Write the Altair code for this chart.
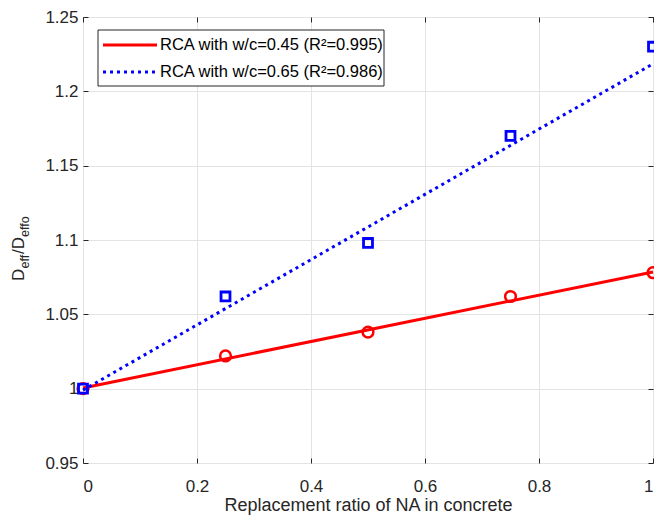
import altair as alt
import pandas as pd

# ---- data ----
ratio = [0.0, 0.25, 0.5, 0.75, 1.0]
d_045 = [1.000, 1.022, 1.038, 1.062, 1.078]
d_065 = [1.000, 1.062, 1.098, 1.170, 1.230]

fit_x = [0.0, 1.0]
fit_045 = [1.0005, 1.0785]
fit_065 = [0.999, 1.2185]

labels = ["RCA with w/c=0.45 (R²=0.995)", "RCA with w/c=0.65 (R²=0.986)"]
x_ticks = [0, 0.2, 0.4, 0.6, 0.8, 1]
y_ticks = [0.95, 1.0, 1.05, 1.1, 1.15, 1.2, 1.25]

RED = "#ff0000"
BLUE = "#0000ff"
AX = "#262626"
FONT = "Liberation Sans"
W, H = 570, 446

pts = pd.DataFrame({"x": ratio, "a": d_045, "b": d_065})
fit = pd.DataFrame({"x": fit_x, "a": fit_045, "b": fit_065})
leg = pd.DataFrame({"label": labels})

xs = alt.Scale(domain=[0, 1], nice=False, zero=False)
ys = alt.Scale(domain=[0.95, 1.25], nice=False, zero=False)

def x_axis_main():
    return alt.Axis(values=x_ticks, grid=True, gridColor="#e3e3e3", gridWidth=1,
                    domain=False, ticks=True, tickSize={"expr": "-5"}, tickColor=AX,
                    labelPadding=20, labelFontSize=17, labelColor=AX, labelFont=FONT,
                    title="Replacement ratio of NA in concrete", titleFont=FONT,
                    titleFontSize=18, titleFontWeight="normal", titleColor=AX,
                    titlePadding=2,
                    labelExpr="datum.value == 0 ? '0' : datum.value == 1 ? '1' : format(datum.value, '.1f')")

def y_axis_main():
    return alt.Axis(values=y_ticks, grid=True, gridColor="#e3e3e3", gridWidth=1,
                    domain=False, ticks=True, tickSize={"expr": "-5"}, tickColor=AX,
                    labelPadding=10, labelFontSize=17, labelColor=AX, labelFont=FONT,
                    title=None,
                    labelExpr="datum.value == 1 ? '1' : format(datum.value, '.3~f')")

red_line = alt.Chart(fit).mark_line(color=RED, strokeWidth=3).encode(
    x=alt.X("x:Q", scale=xs, axis=x_axis_main()),
    y=alt.Y("a:Q", scale=ys, axis=y_axis_main()),
)
red_pts = alt.Chart(pts).mark_point(shape="circle", color=RED, filled=False,
                                    size=115, strokeWidth=2.5, opacity=1).encode(
    x=alt.X("x:Q", scale=xs, axis=alt.Axis(orient="top", values=x_ticks, labels=False,
                                             grid=False, domain=False, tickSize={"expr": "-5"},
                                             tickColor=AX, title=None)),
    y=alt.Y("a:Q", scale=ys, axis=alt.Axis(orient="right", values=y_ticks, labels=False,
                                             grid=False, domain=False, tickSize={"expr": "-5"},
                                             tickColor=AX, title=None)),
)
blue_line = alt.Chart(fit).mark_line(color=BLUE, strokeWidth=3, strokeDash=[3, 4]).encode(
    x=alt.X("x:Q", scale=xs, axis=None),
    y=alt.Y("b:Q", scale=ys, axis=None),
)
blue_pts = alt.Chart(pts).mark_point(shape="square", color=BLUE, filled=False,
                                     size=80, strokeWidth=2.8, opacity=1).encode(
    x=alt.X("x:Q", scale=xs, axis=None),
    y=alt.Y("b:Q", scale=ys, axis=None),
)

# legend (MATLAB style box)
leg_box = alt.Chart(leg.head(1)).mark_rect(fill="white", stroke=AX, strokeWidth=1).encode(
    x=alt.value(15), x2=alt.value(301), y=alt.value(13), y2=alt.value(69))
leg_red = alt.Chart(leg.head(1)).mark_rule(color=RED, strokeWidth=3).encode(
    x=alt.value(20), x2=alt.value(74), y=alt.value(28))
leg_blue = alt.Chart(leg.head(1)).mark_rule(color=BLUE, strokeWidth=3, strokeDash=[3, 4]).encode(
    x=alt.value(20), x2=alt.value(74), y=alt.value(55))
leg_t1 = alt.Chart(leg.iloc[[0]]).mark_text(align="left", baseline="middle", fontSize=16.5,
                                            font=FONT, color="#000000").encode(
    x=alt.value(77), y=alt.value(28), text="label:N")
leg_t2 = alt.Chart(leg.iloc[[1]]).mark_text(align="left", baseline="middle", fontSize=16.5,
                                            font=FONT, color="#000000").encode(
    x=alt.value(77), y=alt.value(55), text="label:N")

# y title with subscripts: D_eff / D_effo
yt_base = dict(angle=270, align="left", baseline="alphabetic", font=FONT, color=AX)
ypos = 264
ytitle = [
    alt.Chart(leg.head(1)).mark_text(text="D", fontSize=17, dx=0, dy=0, **yt_base),
    alt.Chart(leg.head(1)).mark_text(text="eff", fontSize=12.5, dx=12.5, dy=5, **yt_base),
    alt.Chart(leg.head(1)).mark_text(text="/D", fontSize=17, dx=27, dy=0, **yt_base),
    alt.Chart(leg.head(1)).mark_text(text="effo", fontSize=12.5, dx=44, dy=5, **yt_base),
]
ytitle = [c.encode(x=alt.value(-59), y=alt.value(ypos)) for c in ytitle]

chart = alt.layer(
    red_line, red_pts, blue_line, blue_pts,
    leg_box, leg_red, leg_blue, leg_t1, leg_t2, *ytitle
).resolve_axis(x="independent", y="independent").properties(
    width=W, height=H,
    autosize=alt.AutoSizeParams(type="none"),
    padding={"left": 75, "top": 9, "right": 1, "bottom": 55},
).configure_view(stroke=AX, strokeWidth=1)

chart.save("out.html", embed_options={"renderer": "svg", "actions": False})
